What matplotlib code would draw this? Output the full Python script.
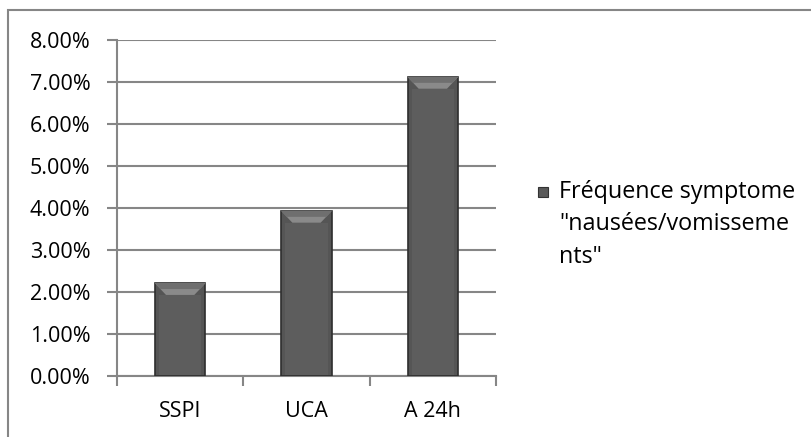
import matplotlib
matplotlib.use("Agg")
import matplotlib.pyplot as plt
from matplotlib.patches import Rectangle, Polygon
from matplotlib.ticker import FuncFormatter, MultipleLocator

categories = ["SSPI", "UCA", "A 24h"]
values = [2.21, 3.93, 7.12]
series_label = "Fréquence symptome\n\"nausées/vomisseme\nnts\""

plt.rcParams['font.family'] = ['Open Sans', 'DejaVu Sans']

fig = plt.figure(figsize=(8.12, 4.37), dpi=100)
W, H = 812, 437
# outer chart border
fig.patches.append(Rectangle((8 / W, -0.05), 1.1, 1 - 10 / H + 0.05, transform=fig.transFigure,
                             fill=False, edgecolor="#868686", linewidth=1.5))

ax = fig.add_axes([117 / W, 1 - 376 / H, (496 - 117) / W, (376 - 40) / H])
x = list(range(len(categories)))
bars = ax.bar(x, values, width=0.40, color="#555555", edgecolor="#2e2e2e", linewidth=1.2, zorder=3)
# bevel on top of bars + soft inner shading
for b in bars:
    x0, w, h = b.get_x(), b.get_width(), b.get_height()
    bev = 0.28
    ins = 0.22 * w
    ax.add_patch(Polygon([(x0, h), (x0 + w, h), (x0 + w - ins, h - bev), (x0 + ins, h - bev)],
                         closed=True, facecolor="#8a8a8a", edgecolor="none", zorder=4))
    ax.add_patch(Polygon([(x0, h), (x0 + w, h), (x0 + w - ins * 0.5, h - bev * 0.5), (x0 + ins * 0.5, h - bev * 0.5)],
                         closed=True, facecolor="#6f6f6f", edgecolor="none", zorder=4))
    ax.add_patch(Rectangle((x0 + w * 0.08, 0.03), w * 0.84, h - bev - 0.03, facecolor="#5d5d5d",
                           edgecolor="none", zorder=4))

ax.set_xlim(-0.5, len(categories) - 0.5)
ax.set_ylim(0, 8)
ax.yaxis.set_major_locator(MultipleLocator(1))
ax.yaxis.set_major_formatter(FuncFormatter(lambda v, p: f"{v:.2f}%"))
ax.set_xticks(x)
ax.set_xticklabels(categories)
ax.set_xticks([i - 0.5 for i in range(len(categories) + 1)], minor=True)
ax.tick_params(axis='x', which='major', length=0, pad=18, labelsize=15.5, colors="black")
ax.tick_params(axis='x', which='minor', length=7, width=1.5, color="#868686", direction='out')
ax.tick_params(axis='y', length=7, width=1.5, color="#868686", pad=12, labelsize=15.5, labelcolor="black")
ax.grid(axis='y', color="#868686", linewidth=1.5, zorder=0)
for s in ["top", "right"]:
    ax.spines[s].set_visible(False)
for s in ["left", "bottom"]:
    ax.spines[s].set_color("#868686")
    ax.spines[s].set_linewidth(1.5)

# legend
fig.patches.append(Rectangle((538 / W, 1 - 197 / H), 10 / W, 10 / H, transform=fig.transFigure,
                             facecolor="#595959", edgecolor="#333333", linewidth=0.8))
fig.text(559 / W, 1 - 180 / H, series_label, fontsize=16.8, va='top', ha='left', linespacing=1.47)

fig.savefig("out.png", dpi=100)
